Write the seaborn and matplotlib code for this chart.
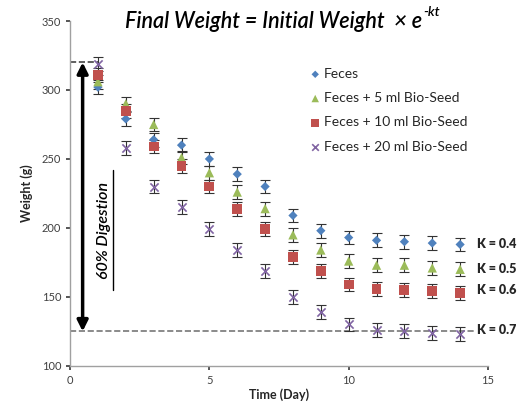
import numpy as np
import pandas as pd
import matplotlib
matplotlib.use("Agg")
import matplotlib.pyplot as plt
import seaborn as sns

days = [1, 2, 3, 4, 5, 6, 7, 8, 9, 10, 11, 12, 13, 14]
feces = [302, 279, 264, 260, 250, 239, 230, 209, 198, 193, 191, 190, 189, 188]
feces_5ml = [306, 290, 275, 251, 240, 226, 214, 195, 184, 176, 173, 173, 171, 170]
feces_10ml = [311, 285, 259, 245, 230, 214, 199, 179, 169, 159, 156, 155, 154, 153]
feces_20ml = [319, 258, 230, 215, 199, 184, 169, 150, 139, 130, 126, 125, 124, 123]
err = 5
series_names = ["Feces", "Feces + 5 ml Bio-Seed", "Feces + 10 ml Bio-Seed", "Feces + 20 ml Bio-Seed"]
k_labels = ["K = 0.4", "K = 0.5", "K = 0.6", "K = 0.7"]
k_label_y = [188, 170, 155, 126]
x_ticks = [0, 5, 10, 15]
y_ticks = [100, 150, 200, 250, 300, 350]
initial_level = 320
final_level = 125

colors = ["#4F81BD", "#9BBB59", "#C0504D", "#8064A2"]
markers = ["D", "^", "s", "x"]
sizes = [22, 45, 50, 35]

sns.set_theme(style="white")
plt.rcParams["font.family"] = ["Lato", "DejaVu Sans"]

fig = plt.figure(figsize=(5.31, 4.12), dpi=100)
ax = fig.add_axes([0.132, 0.112, 0.787, 0.837])

all_vals = [feces, feces_5ml, feces_10ml, feces_20ml]
for name, vals, c, m, s in zip(series_names, all_vals, colors, markers, sizes):
    ax.errorbar(days, vals, yerr=err, fmt="none", ecolor="#333333", elinewidth=0.8,
                capsize=3.5, capthick=0.8, zorder=2)
    df = pd.DataFrame({"Day": days, "Weight": vals})
    kw = dict(edgecolor="none") if m != "x" else dict(linewidth=1.2)
    sns.scatterplot(data=df, x="Day", y="Weight", ax=ax, color=c, marker=m, s=s,
                    label=name, zorder=3, **kw)

ax.set_xlim(0, 15)
ax.set_ylim(100, 350)
ax.set_xticks(x_ticks)
ax.set_yticks(y_ticks)
ax.tick_params(axis="both", labelsize=8, colors="#404040", length=3, direction="out",
               bottom=True, left=True)
for sp in ["top", "right"]:
    ax.spines[sp].set_visible(False)
for sp in ["left", "bottom"]:
    ax.spines[sp].set_color("#A0A0A0")
    ax.spines[sp].set_linewidth(1)
ax.set_xlabel("Time (Day)", fontsize=9, fontweight="bold", labelpad=2)
ax.set_ylabel("Weight (g)", fontsize=9, fontweight="bold", labelpad=6)

# dashed reference lines
ax.plot([0, 1.0], [initial_level, initial_level], ls="--", color="#444444", lw=1.2, zorder=1)
ax.plot([0, 14.5], [final_level, final_level], ls="--", color="#777777", lw=1.2, zorder=1)

# double arrow
ax.annotate("", xy=(0.45, final_level), xytext=(0.45, initial_level),
            arrowprops=dict(arrowstyle="<|-|>", color="black", lw=2.5, mutation_scale=16,
                            shrinkA=0, shrinkB=0))
ax.text(1.22, 198, "60% Digestion", rotation=90, fontsize=11.5, fontstyle="italic",
        fontweight="semibold", ha="center", va="center", color="black")
ax.plot([1.55, 1.55], [155, 242], color="black", lw=1)

# K labels
for lab, yv in zip(k_labels, k_label_y):
    ax.text(14.6, yv, lab, fontsize=9, fontweight="heavy", ha="left", va="center",
            clip_on=False)

leg = ax.legend(loc="upper left", bbox_to_anchor=(0.56, 0.88), frameon=False, fontsize=10,
                handletextpad=0.2, labelspacing=0.88, handlelength=0.8, markerscale=0.8,
                borderaxespad=0)

# title formula
fig.canvas.draw()
r = fig.canvas.get_renderer()
title = fig.text(0.235, 0.948, "Final Weight = Initial Weight  \u00d7 e", fontsize=15.5,
                 fontstyle="italic", fontweight="semibold", ha="left", va="center",
                 color="black")
bb = title.get_window_extent(renderer=r)
fig.text(bb.x1 / fig.bbox.width + 0.002, 0.972, "-kt", fontsize=10, fontstyle="italic",
         fontweight="semibold", ha="left", va="center", color="black")

fig.savefig("out.png", dpi=100)
